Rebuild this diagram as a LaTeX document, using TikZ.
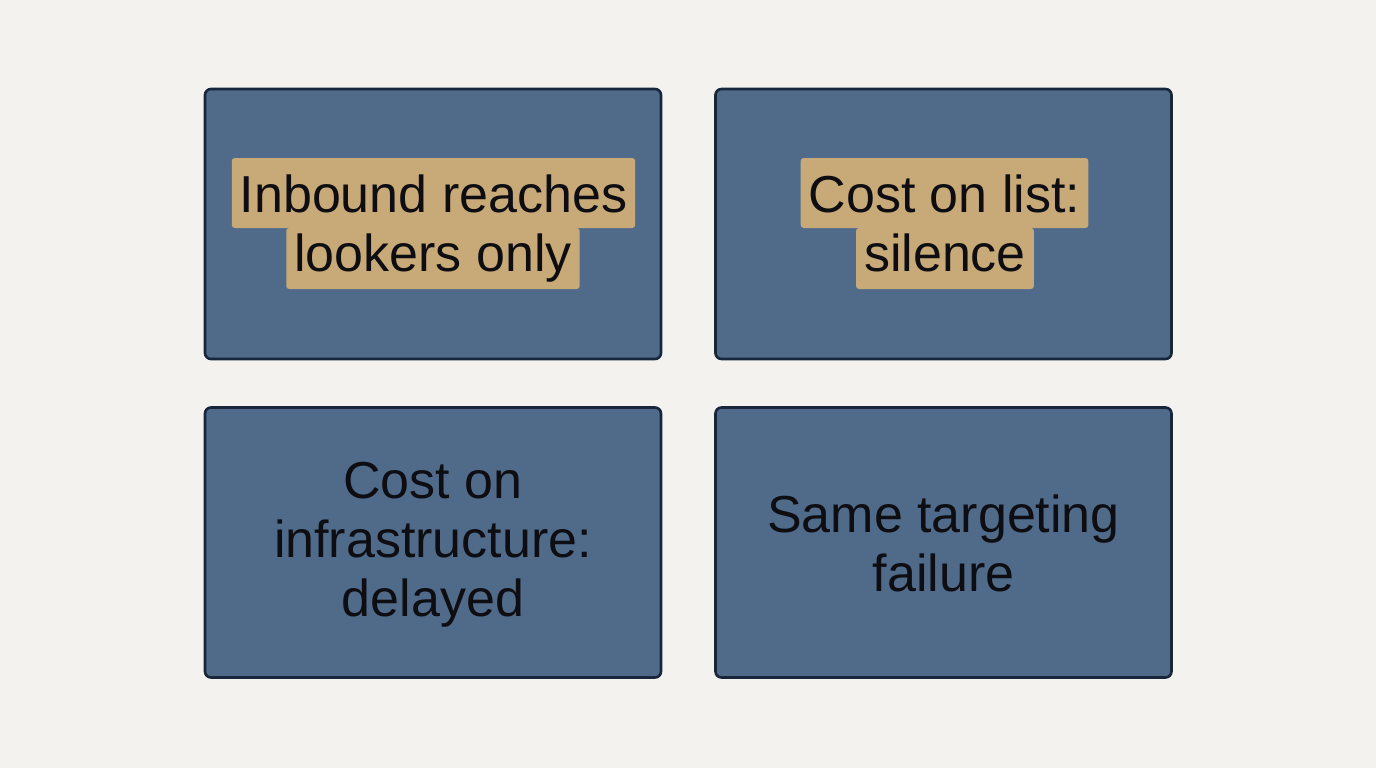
\documentclass[tikz,border=0pt]{standalone}
\usepackage{fontspec}
\setmainfont{Liberation Sans}
\definecolor{bg}{HTML}{F3F2EF}
\definecolor{boxfill}{HTML}{506B8A}
\definecolor{boxline}{HTML}{17263A}
\definecolor{hl}{HTML}{C8AA78}
\definecolor{ink}{HTML}{0D0D12}
\tikzset{
  card/.style={draw=boxline, fill=boxfill, line width=2.6pt, rounded corners=6pt,
    minimum width=456pt, minimum height=270pt, inner sep=0pt},
  hlA/.style={fill=hl, rounded corners=3pt, inner xsep=8pt, inner ysep=0pt,
    text height=54pt, text depth=16pt, anchor=base, text=ink,
    font=\fontsize{52pt}{59pt}\selectfont},
  hlB/.style={fill=hl, rounded corners=3pt, inner xsep=8pt, inner ysep=0pt,
    text height=43pt, text depth=18pt, anchor=base, text=ink,
    font=\fontsize{52pt}{59pt}\selectfont},
  plain/.style={align=center, text=ink, inner sep=0pt,
    font=\fontsize{52pt}{59pt}\selectfont}
}
\begin{document}
\begin{tikzpicture}[x=1pt,y=-1pt]
\fill[bg] (0,0) rectangle (1376,768);
\useasboundingbox (0,0) rectangle (1376,768);
\node[card] (tl) at (433,224) {};
\node[card] (tr) at (943.5,224) {};
\node[card] (bl) at (433,542.5) {};
\node[card] (br) at (943.5,542.5) {};
\node[hlA] (tl1) at (433.5,212) {Inbound reaches};
\node[hlB] (tl2) at (433,271) {lookers only};
\node[hlA] (tr1) at (944.5,212) {Cost on list:};
\node[hlB] (tr2) at (945,271) {silence};
\node[plain] (blt) at (433,545) {Cost on\\infrastructure:\\delayed};
\node[plain] (brt) at (943.5,543) {Same targeting\\failure};
\end{tikzpicture}
\end{document}
